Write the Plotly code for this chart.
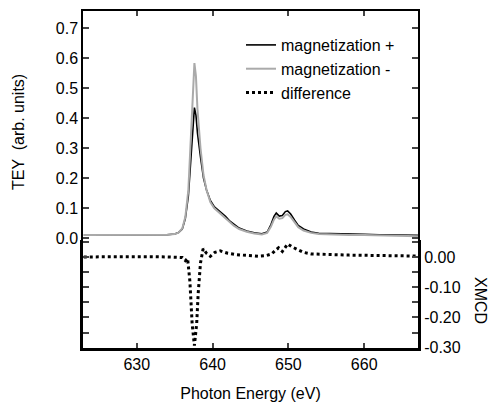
import plotly.graph_objects as go

# ---- data ----
energy_plus = [623, 625, 627, 629, 631, 633, 634, 635, 635.5, 636.0, 636.4, 636.8, 637.1, 637.4, 637.6,
               637.8, 638.0, 638.4, 638.8, 639.2, 639.7, 640.2, 640.7, 641.2, 641.7, 642.2, 642.8,
               643.5, 644.5, 645.5, 646.5, 647.2, 647.7, 648.1, 648.4, 648.8, 649.2, 649.6, 649.9,
               650.3, 650.8, 651.3, 652, 653, 654, 656, 658, 660, 662, 664, 666, 667.1]
tey_plus = [0.010, 0.010, 0.009, 0.009, 0.009, 0.010, 0.011, 0.013, 0.018, 0.030, 0.065, 0.14, 0.25, 0.38,
            0.435, 0.41, 0.35, 0.27, 0.20, 0.16, 0.125, 0.105, 0.095, 0.085, 0.072, 0.058, 0.045,
            0.033, 0.023, 0.017, 0.014, 0.020, 0.045, 0.072, 0.083, 0.073, 0.075, 0.088, 0.090,
            0.080, 0.060, 0.042, 0.030, 0.020, 0.016, 0.014, 0.013, 0.012, 0.011, 0.011, 0.010, 0.009]

energy_minus = energy_plus
tey_minus = [0.010, 0.010, 0.009, 0.009, 0.009, 0.010, 0.011, 0.013, 0.018, 0.032, 0.07, 0.16, 0.33, 0.52,
             0.583, 0.54, 0.43, 0.30, 0.21, 0.16, 0.12, 0.10, 0.088, 0.078, 0.066, 0.053, 0.041,
             0.030, 0.021, 0.015, 0.012, 0.017, 0.038, 0.062, 0.072, 0.064, 0.066, 0.077, 0.079,
             0.070, 0.052, 0.036, 0.025, 0.017, 0.013, 0.011, 0.010, 0.010, 0.009, 0.008, 0.007, 0.006]

energy_diff = [623, 626, 629, 632, 634, 636.0, 636.4, 636.7, 637.0, 637.3, 637.6, 637.9, 638.1, 638.4,
               638.75, 639.2, 639.7, 640.3, 641, 642, 643, 644, 645, 646, 647, 647.8, 648.3, 648.7,
               649.2, 649.9, 650.5, 651.2, 652, 653, 655, 658, 661, 664, 667]
xmcd = [0.0, 0.001, 0.0, 0.001, 0.0, -0.002, -0.012, -0.005, -0.08, -0.22, -0.293, -0.22, -0.12, -0.02,
        0.027, 0.012, 0.002, 0.015, 0.02, 0.012, 0.008, 0.006, 0.003, 0.002, 0.004, 0.01, 0.022, 0.03,
        0.018, 0.043, 0.033, 0.025, 0.015, 0.01, 0.008, 0.006, 0.005, 0.004, 0.003]

x_ticks = [630, 640, 650, 660]
tey_ticks = [0.0, 0.1, 0.2, 0.3, 0.4, 0.5, 0.6, 0.7]
tey_ticktext = ["0.0", "0.1", "0.2", "0.3", "0.4", "0.5", "0.6", "0.7"]
xmcd_ticks = [0.0, -0.1, -0.2, -0.3]
xmcd_ticktext = ["0.00", "-0.10", "-0.20", "-0.30"]

FONT = "Liberation Sans, Arial, sans-serif"

fig = go.Figure()
fig.add_trace(go.Scatter(x=energy_plus, y=tey_plus, xaxis="x2", yaxis="y", mode="lines",
                         name="magnetization +", line=dict(color="black", width=1.6)))
fig.add_trace(go.Scatter(x=energy_minus, y=tey_minus, xaxis="x2", yaxis="y", mode="lines",
                         name="magnetization -", line=dict(color="#aaaaaa", width=2)))
fig.add_trace(go.Scatter(x=energy_diff, y=xmcd, xaxis="x", yaxis="y2", mode="lines",
                         name="difference", line=dict(color="black", width=3, dash="dot")))

split = 0.3205
fig.update_layout(
    width=494, height=402,
    margin=dict(l=83, r=76, t=11, b=54, autoexpand=False),
    paper_bgcolor="white", plot_bgcolor="white",
    font=dict(family=FONT, size=16, color="black"),
    showlegend=True,
    legend=dict(x=(241 - 83) / 335, y=1 - (28 - 11) / 337, xanchor="left", yanchor="top",
                bgcolor="rgba(0,0,0,0)", font=dict(family=FONT, size=16), tracegroupgap=0),
    xaxis=dict(domain=[0, 1], anchor="y2", range=[622.9, 667.1], tickvals=x_ticks, automargin=False,
               ticks="inside", ticklen=5, tickwidth=1.5, showline=True, linewidth=3, linecolor="black",
               showgrid=False, zeroline=False, tickfont=dict(family=FONT, size=16),
               title=dict(text="Photon Energy (eV)", standoff=18, font=dict(family=FONT, size=16))),
    xaxis2=dict(domain=[0, 1], anchor="y", side="top", matches="x", range=[622.9, 667.1],
                automargin=False,
                tickvals=x_ticks, showticklabels=False, ticks="inside", ticklen=5, tickwidth=1.5,
                showline=True, linewidth=1.5, linecolor="black", showgrid=False, zeroline=False),
    yaxis=dict(domain=[split, 1], anchor="x2", range=[-0.0067, 0.757], tickvals=tey_ticks,
               automargin=False, tickfont=dict(family=FONT, size=16),
               ticktext=tey_ticktext, ticks="inside", ticklen=6, tickwidth=1.5, showline=True,
               linewidth=1.5, linecolor="black", mirror="ticks", showgrid=False, zeroline=False),
    yaxis2=dict(domain=[0, split], anchor="x", side="right", range=[-0.301, 0.056],
                automargin=False, tickfont=dict(family=FONT, size=16),
                tickvals=xmcd_ticks, ticktext=xmcd_ticktext, ticks="inside", ticklen=6, tickwidth=1.5,
                showline=True, linewidth=3, linecolor="black", mirror="ticks", showgrid=False,
                zeroline=False,
                minor=dict(dtick=0.05, ticks="inside", ticklen=6, tickwidth=1.5, showgrid=False)),
    annotations=[
        dict(text="TEY  (arb. units)", xref="paper", yref="paper", x=(18 - 83) / 335,
             y=(348 - 132) / 337, xanchor="center", yanchor="middle", showarrow=False,
             textangle=-90, font=dict(family=FONT, size=16)),
        dict(text="XMCD", xref="paper", yref="paper", x=(481 - 83) / 335,
             y=(348 - 300) / 337, xanchor="center", yanchor="middle", showarrow=False,
             textangle=90, font=dict(family=FONT, size=16)),
    ],
)

fig.write_html("out.html", config={"displayModeBar": False},
               post_script="document.body.style.margin='0px';")
